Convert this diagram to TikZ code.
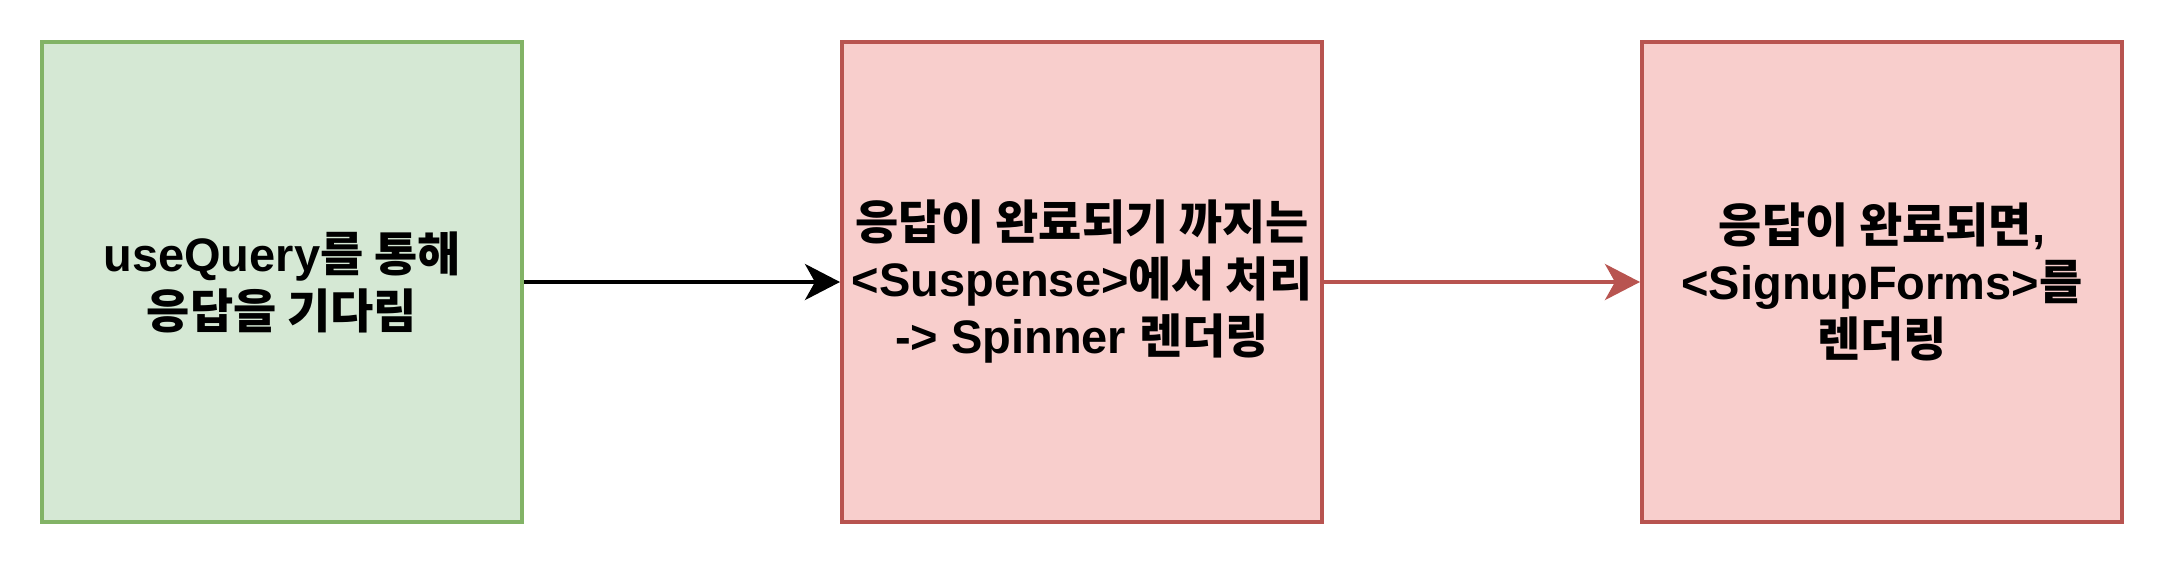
\documentclass[tikz,border=0pt]{standalone}
\usepackage{fontspec}
\setmainfont{Liberation Sans}
\newfontfamily\kr{Noto Sans CJK KR}
\usetikzlibrary{arrows.meta}
\definecolor{gfill}{HTML}{D5E8D4}
\definecolor{gline}{HTML}{82B366}
\definecolor{rfill}{HTML}{F8CECC}
\definecolor{rline}{HTML}{B85450}
\tikzset{
  box/.style={draw, line width=4pt, minimum width=480pt, minimum height=480pt, inner sep=0pt,
    align=center, font=\fontsize{47pt}{57pt}\selectfont\bfseries},
  greenbox/.style={box, fill=gfill, draw=gline},
  redbox/.style={box, fill=rfill, draw=rline},
  conn/.style={line width=4pt, -{Stealth[length=35pt, width=36pt, inset=10pt]}}
}
\begin{document}
\begin{tikzpicture}[x=1pt, y=-1pt]
\useasboundingbox (0,0) rectangle (2164,568);
\node[greenbox] (b1) at (282,282) {useQuery{\kr 를 통해}\\{\kr 응답을 기다림}};
\node[redbox] (b2) at (1082,282) {{\kr 응답이 완료되기 까지는}\\<Suspense>{\kr 에서 처리}\\-> Spinner {\kr 렌더링}};
\node[redbox] (b3) at (1882,282) {{\kr 응답이 완료되면},\\<SignupForms>{\kr 를}\\{\kr 렌더링}};
\draw[conn, black] (b1) -- (b2);
\draw[conn, rline] (b2) -- (b3);
\end{tikzpicture}
\end{document}
